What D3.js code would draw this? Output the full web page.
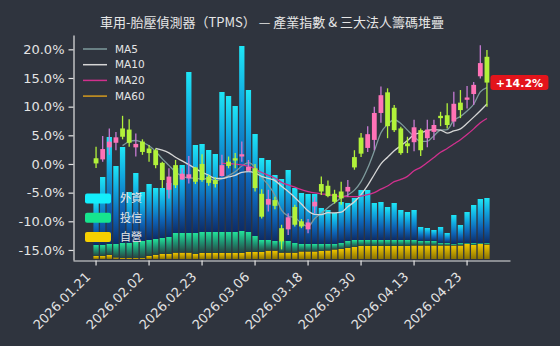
<!DOCTYPE html>
<html><head><meta charset="utf-8">
<script src="https://cdn.jsdelivr.net/npm/d3@7"></script>
<style>
html,body{margin:0;padding:0;background:#2f343e;}
svg{display:block;}
</style></head><body>
<svg id="c" width="560" height="346"></svg>
<script>
const dates = ["2026.01.21","2026.01.22","2026.01.23","2026.01.26","2026.01.27","2026.01.28","2026.01.29","2026.01.30",
"2026.02.02","2026.02.03","2026.02.04","2026.02.05","2026.02.06","2026.02.09","2026.02.10","2026.02.11",
"2026.02.23","2026.02.24","2026.02.25","2026.02.26","2026.03.02","2026.03.03","2026.03.04","2026.03.05",
"2026.03.06","2026.03.09","2026.03.10","2026.03.11","2026.03.12","2026.03.13","2026.03.16","2026.03.17",
"2026.03.18","2026.03.19","2026.03.20","2026.03.23","2026.03.24","2026.03.25","2026.03.26","2026.03.27",
"2026.03.30","2026.03.31","2026.04.01","2026.04.02","2026.04.07","2026.04.08","2026.04.09","2026.04.10",
"2026.04.13","2026.04.14","2026.04.15","2026.04.16","2026.04.17","2026.04.20","2026.04.21","2026.04.22",
"2026.04.23","2026.04.24","2026.04.27","2026.04.28"];
const open  = [1.0,0.8,2.9,3.7,6.2,6.0,2.9,3.9,2.7,2.4,0.2,-4.5,-0.2,-2.7,-2.5,-0.6,0.0,-2.2,-2.8,-2.1,0.4,1.0,1.3,-1.2,-0.75,-5.2,-7.1,-6.3,-11.2,-11.4,-7.5,-10.0,-11.4,-7.4,-3.5,-3.8,-5.2,-4.8,-4.8,1.2,4.6,2.8,4.2,8.9,12.5,9.8,6.2,3.6,3.8,5.9,4.5,5.6,8.4,8.5,7.4,10.7,11.2,12.2,15.3,18.7];
const high  = [3.0,4.9,6.2,5.6,8.4,7.8,5.3,4.3,3.3,2.7,0.4,-0.75,0.7,-0.75,1.4,-0.5,1.7,-1.9,-2.3,1.6,1.3,1.9,3.9,0.7,0.0,-4.4,-4.5,-5.7,-10.6,-8.6,-7.1,-9.6,-9.6,-5.7,-2.2,-2.9,-4.5,-3.1,-2.8,2.4,5.4,6.6,10.0,13.5,13.2,10.3,6.5,4.75,7.7,6.2,7.7,7.7,9.1,10.6,12.6,12.9,13.6,14.3,20.7,19.9];
const low   = [-0.7,0.4,1.6,2.4,4.3,3.0,1.3,1.6,0.4,-0.75,-4.2,-6.0,-4.2,-2.8,-3.4,-3.5,-3.1,-3.8,-4.1,-2.2,-0.75,-0.75,0.4,-1.3,-4.8,-9.5,-8.3,-7.9,-14.9,-12.4,-10.9,-11.2,-12.1,-8.6,-5.4,-5.8,-6.9,-7.1,-5.7,-1.0,1.2,2.1,2.4,7.2,4.5,5.6,1.6,1.9,2.2,1.4,2.9,4.2,6.6,6.2,6.5,8.0,9.7,10.3,14.9,10.0];
const close = [0.1,2.6,3.9,4.65,4.75,3.7,3.5,2.1,1.9,-0.2,-2.8,-2.2,-3.7,-1.7,-1.8,-3.1,-2.8,-3.3,-3.5,-0.2,-0.35,0.6,1.7,-0.5,-4.2,-9.2,-6.1,-7.3,-13.5,-9.3,-10.6,-10.9,-10.2,-6.6,-4.8,-5.6,-6.6,-6.0,-4.0,-0.6,1.8,5.2,8.9,12.0,6.6,5.9,1.9,3.1,6.4,2.4,6.0,6.8,8.0,6.8,10.5,9.4,11.6,13.8,17.6,14.2];

// 三大法人籌碼 (stacked, 千張)
const foreign = [45,68,107,78,96,51,69,49,56,51,50,54,65,68,161,88,88,82,78,140,136,126,185,142,102,82,80,66,62,71,55,51,50,50,36,34,31,41,38,42,50,50,37,38,33,37,30,28,30,14,13,11,16,10,29,18,31,38,44,45];
const trust   = [11,11,11,13.5,15,15,16,17,16,16,16,17,19.7,19.7,19.7,21,21,21,21,21,21,21,22,20,16,12,10.7,9.7,11.7,11.7,9.7,7.5,7.5,7.5,7,6.5,5.5,6,7,7,6,6,6,6,6,6,6,6,5.5,4.5,4.5,4.5,2.5,2.5,1.5,2.5,1,2,1,1.5];
const dealer  = [3,3,4,1.5,1,1,1,1,3,4,5,5,6.3,6.3,6.3,5,6,6,6,6,6,6,6,7,7,7,8.3,8.3,6.3,6.3,6.3,7.5,7.5,7.5,8,8.5,9.5,10,11,12,13,13,13,13,13,13,13,13,13.5,13.5,13.5,13.5,13.5,13.5,13.5,13.5,15,14,15,14.5];
const chipNames = ["外資","投信","自營"];

const yTicks = [20,15,10,5,0,-5,-10,-15];
const xTickDates = ["2026.01.21","2026.02.02","2026.02.23","2026.03.06","2026.03.18","2026.03.30","2026.04.13","2026.04.23"];
const maPeriods = [5,10,20,60];
const maNames = ["MA5","MA10","MA20","MA60"];
const titleText = "車用-胎壓偵測器（TPMS） — 產業指數 & 三大法人籌碼堆疊";

const maColors = ["#7e9a9c","#d6d6d6","#d1308e","#d49a1e"];
const chipColors = ["#13eefb","#16e58e","#f7d000"];
const axisColor = "#e4e4e4";

const svg = d3.select("#c");
const x = d3.scaleBand().domain(dates).range([73,510]).paddingOuter(2.98).paddingInner(0);
const cx = d => x(d) + x.bandwidth()/2;
const y = d3.scaleLinear().domain([-16.75,22.5]).range([260,35]);
const yc = d3.scaleLinear().domain([0,220]).range([259,39]);

// gradients
const defs = svg.append("defs");
function grad(id, stops){
  const g = defs.append("linearGradient").attr("id",id).attr("x1",0).attr("y1",0).attr("x2",0).attr("y2",1);
  stops.forEach(s=>g.append("stop").attr("offset",s[0]).attr("stop-color",s[1]));
}
grad("gF",[[0,"#1ee6f6"],[0.3,"#11a8e0"],[0.65,"#0e62b4"],[1,"#0d2c66"]]);
grad("gT",[[0,"#22e39a"],[0.5,"#1f8f70"],[1,"#27423f"]]);
grad("gD",[[0,"#f2c800"],[1,"#8a7300"]]);

// title
svg.append("text").attr("x",272).attr("y",27).attr("text-anchor","middle")
  .attr("font-family","Noto Sans CJK TC, sans-serif").attr("font-size",13).attr("fill","#e6e6e6")
  .text(titleText);

// stacked bars
const rows = dates.map((d,i)=>({date:d, f:foreign[i], t:trust[i], dl:dealer[i]}));
const stack = d3.stack().keys(["dl","t","f"])(rows);
const gradIds = {dl:"gD", t:"gT", f:"gF"};
const bw = x.bandwidth()*0.8;
stack.forEach(layer=>{
  svg.append("g").selectAll("rect").data(layer).join("rect")
    .attr("x", d=>cx(d.data.date)-bw/2).attr("width", bw)
    .attr("y", d=>yc(d[1])).attr("height", d=>Math.max(0, yc(d[0])-yc(d[1])))
    .attr("fill", `url(#${gradIds[layer.key]})`);
});

// MA lines
maPeriods.forEach((p,k)=>{
  const pts = [];
  for(let i=p-1;i<close.length;i++){
    pts.push([cx(dates[i]), y(d3.mean(close.slice(i-p+1,i+1)))]);
  }
  if(pts.length>1){
    svg.append("path").attr("d", d3.line().curve(d3.curveMonotoneX)(pts))
      .attr("fill","none").attr("stroke",maColors[k]).attr("stroke-width",1.3);
  }
});

// candles
const upC = "#ff72b6", upW = "#c67ad2", dnC = "#b2f23a";
const cg = svg.append("g");
dates.forEach((d,i)=>{
  const up = close[i] >= open[i];
  const xc = cx(d);
  cg.append("line").attr("x1",xc).attr("x2",xc).attr("y1",y(high[i])).attr("y2",y(low[i]))
    .attr("stroke", up?upW:dnC).attr("stroke-width",1.3);
  const top = y(Math.max(open[i],close[i])), bot = y(Math.min(open[i],close[i]));
  cg.append("rect").attr("x",xc-2.4).attr("width",4.8).attr("y",top).attr("height",Math.max(1.2,bot-top))
    .attr("fill", up?upC:dnC);
});

// axes
const ya = svg.append("g").attr("transform","translate(73.5,0)")
  .call(d3.axisLeft(y).tickValues(yTicks).tickSize(5).tickSizeOuter(0).tickFormat(d=>d.toFixed(1)+"%"));
const xa = svg.append("g").attr("transform","translate(0,260.5)")
  .call(d3.axisBottom(x).tickValues(xTickDates).tickSize(5).tickSizeOuter(0));
[ya,xa].forEach(a=>{
  a.selectAll("path,line").attr("stroke",axisColor).attr("stroke-width",1.2);
  a.selectAll("text").attr("fill",axisColor).attr("font-family","DejaVu Sans, sans-serif").attr("font-size",13);
});
ya.selectAll("text").attr("x",-9);
xa.selectAll("text").attr("text-anchor","end").attr("x",0).attr("y",0).attr("dy","0.35em")
  .attr("transform","translate(-8,14) rotate(-45)");

// MA legend
maNames.forEach((n,k)=>{
  const yy = 49 + k*15.7;
  svg.append("line").attr("x1",83).attr("x2",107).attr("y1",yy).attr("y2",yy)
    .attr("stroke",maColors[k]).attr("stroke-width",1.5);
  svg.append("text").attr("x",115).attr("y",yy).attr("dy","0.35em")
    .attr("font-family","DejaVu Sans, sans-serif").attr("font-size",10.5).attr("fill","#e6e6e6").text(n);
});

// chip legend
chipNames.forEach((n,k)=>{
  const yy = 198.5 + k*19.3;
  svg.append("rect").attr("x",85).attr("y",yy-5).attr("width",26).attr("height",10).attr("rx",2)
    .attr("fill",chipColors[k]);
  svg.append("text").attr("x",120).attr("y",yy).attr("dy","0.35em")
    .attr("font-family","Noto Sans CJK TC, sans-serif").attr("font-size",11).attr("fill","#e6e6e6").text(n);
});

// last value label
const li = close.length-1;
const lx = cx(dates[li]) + 3.5, ly = y(close[li]);
const lab = svg.append("g").attr("transform",`translate(${lx},${ly})`);
lab.append("rect").attr("x",0).attr("y",-7.5).attr("width",58).attr("height",15).attr("rx",3).attr("fill","#e3141b");
lab.append("text").attr("x",29).attr("y",0).attr("dy","0.36em").attr("text-anchor","middle")
  .attr("font-family","DejaVu Sans, sans-serif").attr("font-weight","bold").attr("font-size",11)
  .attr("fill","#ffffff").text((close[li]>=0?"+":"")+close[li].toFixed(1)+"%");
</script>
</body></html>
